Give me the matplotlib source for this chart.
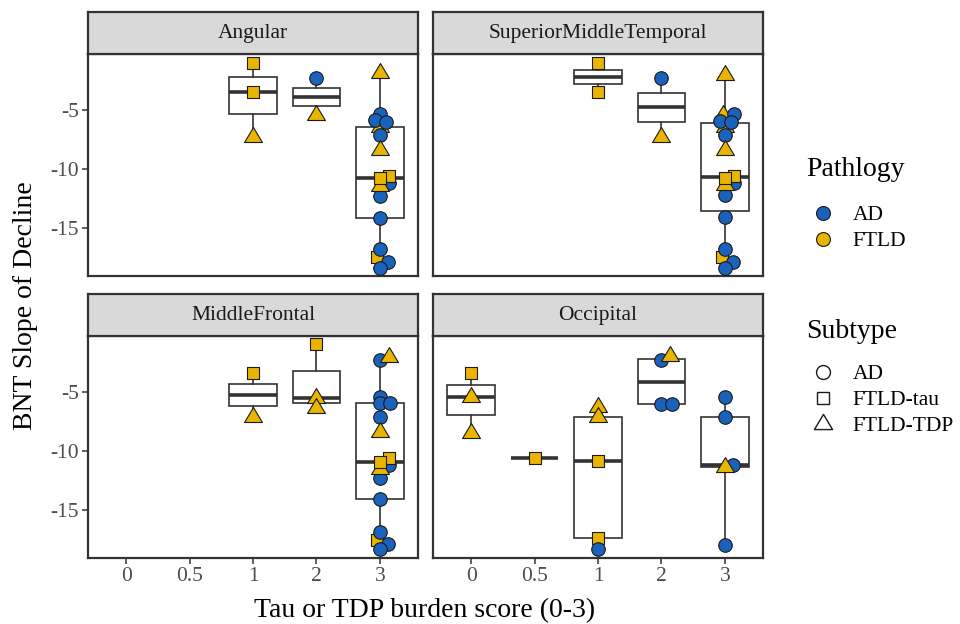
import matplotlib
matplotlib.use('Agg')
import matplotlib.pyplot as plt
from matplotlib.lines import Line2D
from matplotlib.path import Path
import numpy as np

plt.rcParams['font.family'] = ['Liberation Serif', 'DejaVu Serif']

# ---------------- data ----------------
score_labels = ['0', '0.5', '1', '2', '3']
regions = ['Angular', 'SuperiorMiddleTemporal', 'MiddleFrontal', 'Occipital']

angular_score = ['1', '1', '1', '2', '2'] + ['3'] * 17
angular_slope = [-1.0, -3.45, -7.25, -2.3, -5.45,
                 -6.4, -17.4, -5.33, -5.84, -5.98, -7.11, -11.2, -12.27, -14.11, -16.79, -17.84, -18.34,
                 -1.9, -8.38, -11.4, -10.58, -10.77]
angular_subtype = ['FTLD-tau', 'FTLD-tau', 'FTLD-TDP', 'AD', 'FTLD-TDP',
                   'FTLD-TDP', 'FTLD-tau'] + ['AD'] * 10 + ['FTLD-TDP', 'FTLD-TDP', 'FTLD-TDP', 'FTLD-tau', 'FTLD-tau']
angular_jit = [0, 0, 0, 0, 0, 0, -0.04, 0, -0.08, 0.1, 0, 0.15, 0, 0, 0, 0.12, 0, 0, 0, 0, 0.15, 0]

smt_score = ['1', '1', '2', '2'] + ['3'] * 18
smt_slope = [-0.98, -3.44, -2.31, -7.25,
             -5.4, -6.45, -17.4, -5.33, -5.9, -6.01, -7.11, -11.2, -12.19, -14.02, -16.79, -17.83, -18.34,
             -2.03, -8.38, -11.34, -10.6, -10.78]
smt_subtype = ['FTLD-tau', 'FTLD-tau', 'AD', 'FTLD-TDP',
               'FTLD-TDP', 'FTLD-TDP', 'FTLD-tau'] + ['AD'] * 10 + ['FTLD-TDP', 'FTLD-TDP', 'FTLD-TDP', 'FTLD-tau', 'FTLD-tau']
smt_jit = [0, 0, 0, 0, -0.03, 0, -0.04, 0.15, -0.08, 0.09, 0, 0.15, 0, 0, 0, 0.12, 0, 0, 0, 0, 0.15, 0]

mf_score = ['1', '1', '2', '2', '2'] + ['3'] * 17
mf_slope = [-3.41, -7.13, -0.93, -5.5, -6.37,
            -17.5, -2.28, -5.44, -5.95, -5.95, -7.13, -11.2, -12.25, -14.08, -16.82, -17.86, -18.31,
            -2.0, -8.35, -11.5, -10.6, -10.89]
mf_subtype = ['FTLD-tau', 'FTLD-TDP', 'FTLD-tau', 'FTLD-TDP', 'FTLD-TDP',
              'FTLD-tau'] + ['AD'] * 11 + ['FTLD-TDP', 'FTLD-TDP', 'FTLD-TDP', 'FTLD-tau', 'FTLD-tau']
mf_jit = [0, 0, 0, 0, 0, -0.04, 0, 0, 0, 0.16, 0, 0.14, 0, 0, 0, 0.12, 0, 0.14, 0, 0, 0.14, 0]

occ_score = ['0', '0', '0', '0.5', '1', '1', '1', '1', '1', '2', '2', '2', '2', '3', '3', '3', '3', '3']
occ_slope = [-3.41, -5.45, -8.44, -10.61, -6.29, -7.13, -10.81, -17.38, -18.31,
             -2.28, -6.01, -6.01, -1.94, -5.39, -7.13, -11.17, -11.31, -17.95]
occ_subtype = ['FTLD-tau', 'FTLD-TDP', 'FTLD-TDP', 'FTLD-tau', 'FTLD-TDP', 'FTLD-TDP', 'FTLD-tau', 'FTLD-tau', 'AD',
               'AD', 'AD', 'AD', 'FTLD-TDP', 'AD', 'AD', 'AD', 'FTLD-TDP', 'AD']
occ_jit = [0, 0, 0, 0, 0, 0, 0, 0, 0, 0, 0, 0.16, 0.13, 0, 0, 0.12, 0, 0]

panel_data = {
    'Angular': (angular_score, angular_slope, angular_subtype, angular_jit),
    'SuperiorMiddleTemporal': (smt_score, smt_slope, smt_subtype, smt_jit),
    'MiddleFrontal': (mf_score, mf_slope, mf_subtype, mf_jit),
    'Occipital': (occ_score, occ_slope, occ_subtype, occ_jit),
}

# ---------------- styles ----------------
pathology_colors = {'AD': '#1A63BD', 'FTLD': '#E9B500'}
tri = Path([(-1.0, -0.56), (1.0, -0.56), (0.0, 1.11), (-1.0, -0.56)], closed=True)
subtype_marker = {'AD': 'o', 'FTLD-tau': 's', 'FTLD-TDP': tri}
subtype_size = {'AD': 95, 'FTLD-tau': 82, 'FTLD-TDP': 205}
dark = '#333333'

W, H = 960, 624
def rect(x0, y0, x1, y1):
    return [x0 / W, 1 - y1 / H, (x1 - x0) / W, (y1 - y0) / H]

panels = [(88, 54, 418, 276), (433, 54, 763, 276), (88, 336, 418, 558), (433, 336, 763, 558)]
strip_h = 42

fig = plt.figure(figsize=(9.6, 6.24), dpi=100)
fig.patch.set_facecolor('white')

for i, region in enumerate(regions):
    x0, y0, x1, y1 = panels[i]
    ax = fig.add_axes(rect(x0, y0, x1, y1))
    sc, sl, st, jt = panel_data[region]
    pos_of = {lab: k for k, lab in enumerate(score_labels)}

    # boxplots
    groups, positions = [], []
    for lab in score_labels:
        vals = [v for s, v in zip(sc, sl) if s == lab]
        if vals:
            groups.append(vals)
            positions.append(pos_of[lab])
    ax.boxplot(groups, positions=positions, widths=0.75, whis=(0, 100),
               patch_artist=True, showfliers=False, showcaps=False,
               boxprops=dict(facecolor='white', edgecolor=dark, linewidth=1.2),
               medianprops=dict(color=dark, linewidth=2.6, solid_capstyle='butt'),
               whiskerprops=dict(color=dark, linewidth=1.2),
               zorder=2)

    # points
    for j, (s, v, t, dx) in enumerate(zip(sc, sl, st, jt)):
        path = 'AD' if t == 'AD' else 'FTLD'
        ax.scatter(pos_of[s] + dx, v, marker=subtype_marker[t], s=subtype_size[t],
                   facecolor=pathology_colors[path], edgecolor='#1A1A1A', linewidth=0.8,
                   zorder=3 + j * 0.01)

    ax.set_xlim(-0.6, 4.6)
    ax.set_ylim(-19.05, -0.25)
    for sp in ax.spines.values():
        sp.set_color(dark)
        sp.set_linewidth(1.6)
    ax.tick_params(length=4.2, width=1.1, color=dark, labelcolor='#4D4D4D', labelsize=15.5, pad=2.5)
    if i in (0, 2):
        ax.set_yticks([-5, -10, -15])
        ax.set_yticklabels(['-5', '-10', '-15'])
    else:
        ax.set_yticks([])
    if i in (2, 3):
        ax.set_xticks(range(len(score_labels)))
        ax.set_xticklabels(score_labels)
    else:
        ax.set_xticks([])

    # strip
    sax = fig.add_axes(rect(x0, y0 - strip_h, x1, y0))
    sax.set_facecolor('#D9D9D9')
    sax.set_xticks([]); sax.set_yticks([])
    for sp in sax.spines.values():
        sp.set_color(dark)
        sp.set_linewidth(1.6)
    sax.text(0.5, 0.48, region, ha='center', va='center', fontsize=15.5, color='#1A1A1A',
             transform=sax.transAxes)

# axis titles
fig.text(26 / W, 1 - 306 / H, 'BNT Slope of Decline', rotation=90, ha='center', va='center', fontsize=20)
fig.text(425 / W, 1 - 617 / H, 'Tau or TDP burden score (0-3)', ha='center', va='baseline', fontsize=20)

# legends
fig.text(806 / W, 1 - 170 / H, 'Pathlogy', ha='left', va='center', fontsize=20)
fig.text(806 / W, 1 - 332 / H, 'Subtype', ha='left', va='center', fontsize=20)

path_handles = [Line2D([], [], linestyle='', marker='o', markersize=10,
                       markerfacecolor=pathology_colors[k], markeredgecolor='#1A1A1A', markeredgewidth=0.8)
                for k in ['AD', 'FTLD']]
leg1 = fig.legend(path_handles, ['AD', 'FTLD'], loc='upper left', bbox_to_anchor=(812 / W, 1 - 205 / H),
                  frameon=False, fontsize=15.5, borderpad=0, borderaxespad=0, handlelength=1.0,
                  handletextpad=0.9, labelspacing=0.28)
sub_handles = [Line2D([], [], linestyle='', marker=subtype_marker[k],
                      markersize={'AD': 10, 'FTLD-tau': 9.2, 'FTLD-TDP': 14.5}[k],
                      markerfacecolor='none', markeredgecolor='#1A1A1A', markeredgewidth=1.0)
               for k in ['AD', 'FTLD-tau', 'FTLD-TDP']]
leg2 = fig.legend(sub_handles, ['AD', 'FTLD-tau', 'FTLD-TDP'], loc='upper left',
                  bbox_to_anchor=(812 / W, 1 - 364 / H),
                  frameon=False, fontsize=15.5, borderpad=0, borderaxespad=0, handlelength=1.0,
                  handletextpad=0.9, labelspacing=0.28)

fig.savefig('out.png', dpi=100, facecolor='white')
